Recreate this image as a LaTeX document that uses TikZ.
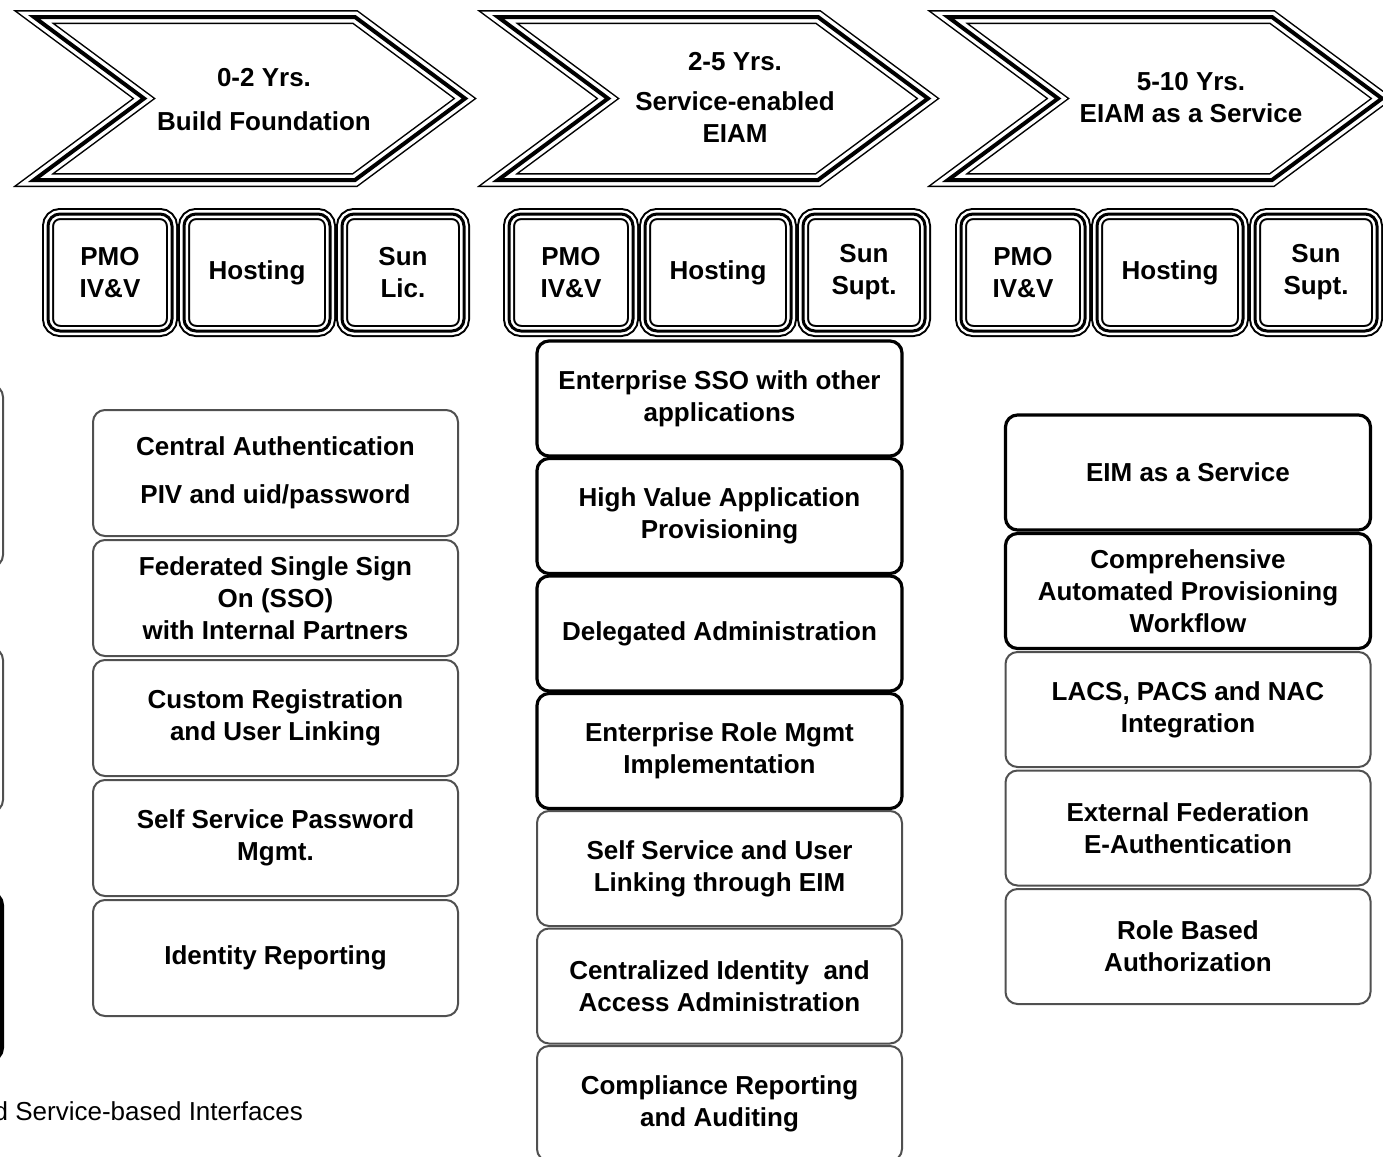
\documentclass[tikz,border=0pt]{standalone}
\usepackage{fontspec}
\setmainfont{Liberation Sans}
\usepackage{xcolor}
\definecolor{eiamgray}{RGB}{80,80,80}
\usepackage{tikz}
\usetikzlibrary{positioning}

\begin{document}
\begin{tikzpicture}[x=0.5pt, y=-0.5pt,
  every node/.style={font=\fontsize{13}{16}\selectfont\bfseries, align=center, inner sep=0pt, outer sep=0pt},
  chevron/.style={line join=miter, preaction={draw, line width=7pt}, preaction={draw=white, line width=5.5pt}, draw, line width=2pt},
  tribox/.style={rounded corners=6pt, minimum height=58.5pt, preaction={draw, line width=6pt}, preaction={draw=white, line width=4pt}, draw, line width=1.5pt},
  pmobox/.style={tribox, minimum width=62pt},
  hostbox/.style={tribox, minimum width=73pt},
  sunbox/.style={tribox, minimum width=61pt},
  softbox/.style={draw=eiamgray, line width=1pt, rounded corners=6pt, fill=white, minimum width=182.5pt, minimum height=57.5pt},
  hardbox/.style={softbox, draw=black, line width=1.6pt}]
\fill[white] (0,0) rectangle (1383,1157);
\useasboundingbox (0,0) rectangle (1383,1157);
\clip (0,0) rectangle (1383,1157);

% phase arrows
\draw[chevron] (34,17) -- (355,17) -- (465,98.5) -- (355,180) -- (34,180) -- (144,98.5) -- cycle;
\draw[chevron] (498,17) -- (818,17) -- (928,98.5) -- (818,180) -- (498,180) -- (608,98.5) -- cycle;
\draw[chevron] (948,17) -- (1272,17) -- (1382,98.5) -- (1272,180) -- (948,180) -- (1058,98.5) -- cycle;
\node (span1) at (264,100) {0-2 Yrs.\\[6pt]Build Foundation};
\node (span2) at (735,97) {2-5 Yrs.\\[4pt]Service-enabled\\EIAM};
\node (span3) at (1191,98) {5-10 Yrs.\\EIAM as a Service};

% support rows
\node[pmobox, anchor=west] (pmoA) at (48,272.5) {PMO\\IV\&V};
\node[hostbox, right=6pt of pmoA] (hostA) {Hosting};
\node[sunbox, right=6pt of hostA] (sunA) {Sun\\Lic.};
\node[pmobox, anchor=west] (pmoB) at (509,272.5) {PMO\\IV\&V};
\node[hostbox, right=6pt of pmoB] (hostB) {Hosting};
\node[sunbox, right=6pt of hostB] (sunB) {Sun\\Supt.};
\node[pmobox, anchor=west] (pmoC) at (961,272.5) {PMO\\IV\&V};
\node[hostbox, right=6pt of pmoC] (hostC) {Hosting};
\node[sunbox, right=6pt of hostC] (sunC) {Sun\\Supt.};

% earlier column, cut off at the left
\draw[eiamgray, line width=1pt, rounded corners=6pt] (-200,385) rectangle (3,567);
\draw[eiamgray, line width=1pt, rounded corners=6pt] (-200,648) rectangle (3,812);
\draw[line width=2pt, rounded corners=6pt] (-200,893) rectangle (2,1060);
\node[font=\fontsize{13}{16}\selectfont, anchor=base east] (stdnote) at (303,1120) {and Service-based Interfaces};

% 0-2 years
\node[softbox, minimum height=63pt, anchor=north] (auth) at (275.5,410) {Central Authentication\\[8pt]PIV and uid/password};
\node[softbox, minimum height=58pt, below=2pt of auth] (fedsso) {Federated Single Sign\\On (SSO)\\with Internal Partners};
\node[softbox, minimum height=58pt, below=2pt of fedsso] (custreg) {Custom Registration\\and User Linking};
\node[softbox, minimum height=58pt, below=2pt of custreg] (selfpw) {Self Service Password\\Mgmt.};
\node[softbox, minimum height=58pt, below=2pt of selfpw] (idrep) {Identity Reporting};

% 2-5 years
\node[hardbox, anchor=north] (esso) at (719.5,341) {Enterprise SSO with other\\applications};
\node[hardbox, below=1.25pt of esso] (hvprov) {High Value Application\\Provisioning};
\node[hardbox, below=1.25pt of hvprov] (deladm) {Delegated Administration};
\node[hardbox, below=1.25pt of deladm] (rolemgmt) {Enterprise Role Mgmt\\Implementation};
\node[softbox, below=1.25pt of rolemgmt] (selfeim) {Self Service and User\\Linking through EIM};
\node[softbox, below=1.25pt of selfeim] (centadm) {Centralized Identity\ \ and\\Access Administration};
\node[softbox, below=1.25pt of centadm] (comprep) {Compliance Reporting\\and Auditing};

% 5-10 years
\node[hardbox, anchor=north] (eimsvc) at (1188,415) {EIM as a Service};
\node[hardbox, below=1.75pt of eimsvc] (autoprov) {Comprehensive\\Automated Provisioning\\Workflow};
\node[softbox, below=1.75pt of autoprov] (lacs) {LACS, PACS and NAC\\Integration};
\node[softbox, below=1.75pt of lacs] (extfed) {External Federation\\E-Authentication};
\node[softbox, below=1.75pt of extfed] (rbac) {Role Based\\Authorization};
\end{tikzpicture}
\end{document}
